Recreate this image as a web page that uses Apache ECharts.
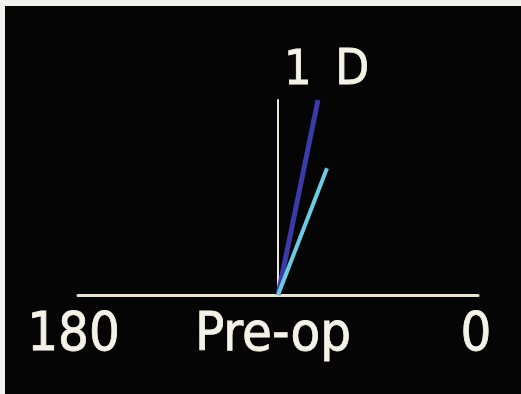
<!DOCTYPE html>
<html>
<head>
<meta charset="utf-8">
<script src="https://cdn.jsdelivr.net/npm/echarts@6/dist/echarts.min.js"></script>
<style>
  html, body { margin: 0; padding: 0; background: #f1f1ef; width: 521px; height: 394px; overflow: hidden; }
  #chart { position: absolute; left: 5px; top: 6px; width: 516px; height: 388px; background: #050505; }
</style>
</head>
<body>
<div id="chart"></div>
<script>
// Vector components (dioptres): horizontal (toward 0°) and vertical (toward 90°)
const vectorNames = ['Vector A', 'Vector B'];
const vectorX = [0.20, 0.245];
const vectorY = [1.00, 0.65];
const vectorColors = ['#3a3aa8', '#6ccae2'];
const vectorWidths = [5, 4];
const tickLabels = { '-1': '180', '0': 'Pre-op', '1': '0' };
const scaleLabel = ['1', 'D'];

const font = "'DejaVu Sans Condensed', 'DejaVu Sans', sans-serif";
const textColor = '#f4f2e6';
const chart = echarts.init(document.getElementById('chart'), null, { renderer: 'canvas' });

const series = vectorNames.map((n, i) => ({
  name: n,
  type: 'line',
  data: [[0, 0], [vectorX[i], vectorY[i]]],
  symbol: 'none',
  lineStyle: { color: vectorColors[i], width: vectorWidths[i], cap: 'butt' },
  z: 3 + i,
  animation: false
}));

const labelStyle = (pad) => ({
  color: textColor, fontSize: 54, fontFamily: font, padding: [0, pad, 0, 0],
  textBorderColor: textColor, textBorderWidth: 0.8
});
const labelKeys = { '-1': 'l', '0': 'c', '1': 'r' };

chart.setOption({
  backgroundColor: '#050505',
  animation: false,
  title: {
    text: scaleLabel[0] + ' {d|' + scaleLabel[1] + '}',
    left: 274,
    top: 36,
    textStyle: {
      color: textColor, fontSize: 48, fontWeight: 'normal', fontFamily: font,
      textBorderColor: textColor, textBorderWidth: 0.8,
      rich: { d: { color: textColor, fontSize: 49, fontFamily: font, padding: [0, 0, 0, 10],
                   textBorderColor: textColor, textBorderWidth: 0.8 } }
    }
  },
  grid: { left: 73, right: 43, top: 94, bottom: 99, containLabel: false },
  xAxis: {
    type: 'value',
    min: -1, max: 1, interval: 1,
    axisLine: { show: true, onZero: false, lineStyle: { color: '#e6e4cc', width: 3 } },
    axisTick: { show: false },
    splitLine: { show: false },
    axisLabel: {
      show: true,
      margin: 14,
      color: textColor,
      fontSize: 54,
      fontFamily: font,
      showMinLabel: true,
      showMaxLabel: true,
      formatter: v => {
        const k = String(v);
        return tickLabels[k] ? '{' + labelKeys[k] + '|' + tickLabels[k] + '}' : '';
      },
      rich: { l: labelStyle(9), c: labelStyle(10), r: labelStyle(4) }
    }
  },
  yAxis: {
    type: 'value',
    min: 0, max: 1,
    axisLine: { show: true, onZero: true, lineStyle: { color: '#ebe9dc', width: 2 } },
    axisTick: { show: false },
    splitLine: { show: false },
    axisLabel: { show: false }
  },
  series: series
});
</script>
</body>
</html>
